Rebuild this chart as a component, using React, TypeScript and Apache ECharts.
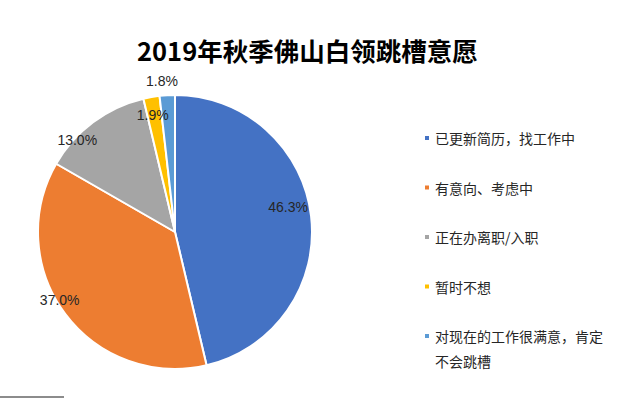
import React, { useEffect, useRef } from "react";
import * as echarts from "echarts";

const titleText = "2019年秋季佛山白领跳槽意愿";
const categories = [
  "已更新简历，找工作中",
  "有意向、考虑中",
  "正在办离职/入职",
  "暂时不想",
  "对现在的工作很满意，肯定不会跳槽",
];
const values = [46.3, 37.0, 13.0, 1.9, 1.8];
const colors = ["#4472C4", "#ED7D31", "#A5A5A5", "#FFC000", "#5B9BD5"];
const labelOffsets: [number, number][] = [
  [42, -17],
  [-58, 25],
  [-55, -35],
  [-10, -47],
  [-9, -80],
];

export default function App() {
  const ref = useRef<HTMLDivElement>(null);
  useEffect(() => {
    if (!ref.current) return;
    const chart = echarts.init(ref.current, null, { renderer: "svg" });
    const font = '"Noto Sans CJK SC", "Microsoft YaHei", sans-serif';
    const legendText = {
      fontFamily: font,
      fontSize: 14,
      color: "#262626",
      lineHeight: 25,
      width: 172,
      overflow: "break",
    };
    const legendBase = {
      orient: "vertical",
      left: 423,
      height: 400,
      padding: 0,
      itemWidth: 6,
      itemHeight: 6,
      itemGap: 24.5,
      icon: "rect",
      textStyle: legendText,
    };
    chart.setOption({
      animation: false,
      backgroundColor: "#ffffff",
      color: colors,
      title: {
        text: titleText,
        left: 132,
        top: 32,
        textStyle: {
          fontFamily: font,
          fontSize: 25.5,
          fontWeight: "bold",
          color: "#000000",
        },
      },
      legend: [
        {
          ...legendBase,
          top: 125.5,
          data: categories.slice(0, 4),
        },
        {
          ...legendBase,
          top: 298.5,
          // leading blank line keeps the marker level with the first text line
          formatter: (name: string) => "\n" + name,
          data: categories.slice(4),
        },
      ],
      series: [
        {
          type: "pie",
          center: [175, 232],
          radius: [0, 137],
          startAngle: 90,
          clockwise: true,
          avoidLabelOverlap: false,
          itemStyle: { borderColor: "#ffffff", borderWidth: 2 },
          labelLine: { show: false },
          emphasis: { disabled: true },
          data: categories.map((name, i) => ({
            name,
            value: values[i],
            label: { offset: labelOffsets[i] },
          })),
          label: {
            show: true,
            position: "inside",
            fontFamily: "Arial, 'Liberation Sans', sans-serif",
            fontSize: 14,
            color: "#262626",
            formatter: (p: any) => `${values[p.dataIndex].toFixed(1)}%`,
          },
        },
      ],
      graphic: [
        {
          type: "rect",
          shape: { x: 0, y: 396, width: 64, height: 2 },
          style: { fill: "#8c8c8c" },
        },
      ],
    });
    return () => chart.dispose();
  }, []);
  return (
    <div
      ref={ref}
      style={{ position: "fixed", left: 0, top: 0, width: 625, height: 398 }}
    />
  );
}
